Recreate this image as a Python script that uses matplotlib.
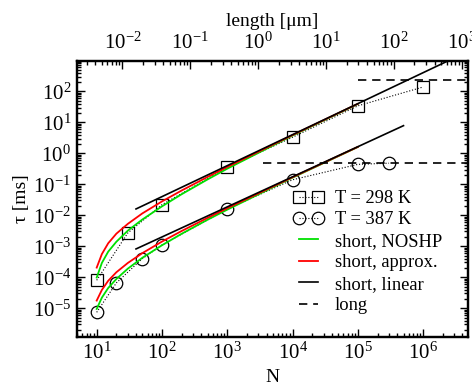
import matplotlib
matplotlib.use("Agg")
import matplotlib.pyplot as plt
from matplotlib.ticker import LogLocator, NullFormatter, FixedLocator

plt.rcParams['font.family'] = ['Liberation Serif', 'DejaVu Serif']
plt.rcParams['mathtext.fontset'] = 'stix'
plt.rcParams['font.size'] = 12

# ---- data ----
N_298 = [10, 30, 100, 1000, 1e4, 1e5, 1e6]
tau_298 = [8e-5, 2.7e-3, 0.022, 0.35, 3.3, 34, 138]

N_387 = [10, 20, 50, 100, 1000, 1e4, 1e5, 3e5]
tau_387 = [7.4e-6, 6.6e-5, 4.0e-4, 1.1e-3, 0.016, 0.14, 0.44, 0.48]

N_short = [10, 12, 15, 20, 30, 50, 100, 200, 500, 1000, 1e4, 1e5]
noshp_298 = [9.8e-5, 2.9e-4, 6.7e-4, 1.4e-3, 3.2e-3, 7.3e-3, 0.0194, 0.0478, 0.144, 0.319, 3.75, 39.2]
approx_298 = [2.05e-4, 5.6e-4, 1.25e-3, 2.55e-3, 5.3e-3, 0.0115, 0.028, 0.063, 0.173, 0.362, 3.88, 39.6]
noshp_387 = [9.5e-6, 2.2e-5, 4.5e-5, 8.8e-5, 1.9e-4, 4.25e-4, 1.08e-3, 2.53e-3, 7.21e-3, 0.0152, 0.164, 1.60]
approx_387 = [1.77e-5, 3.9e-5, 7.7e-5, 1.45e-4, 2.9e-4, 6.0e-4, 1.42e-3, 3.11e-3, 8.28e-3, 0.0169, 0.169, 1.61]

lin_298_N = [40, 5e6]
lin_298_tau = [0.016, 2000]
lin_387_N = [40, 5e5]
lin_387_tau = [8.2e-4, 7.8]

long_298_N = [1e5, 5e6]
long_298_tau = [225, 225]
long_387_N = [3.5e3, 5e6]
long_387_tau = [0.5, 0.5]

N_ticks = [1e1, 1e2, 1e3, 1e4, 1e5, 1e6]
tau_ticks = [1e-5, 1e-4, 1e-3, 1e-2, 1e-1, 1e0, 1e1, 1e2]
len_ticks = [1e-2, 1e-1, 1e0, 1e1, 1e2, 1e3]

# ---- figure ----
fig = plt.figure(figsize=(4.72, 3.85), dpi=100)
ax = fig.add_axes([0.1625, 0.1255, 0.830, 0.716])

lw_c = 1.3
ax.plot(N_298, tau_298, ls=':', color='black', lw=0.8, marker='s', ms=8,
        mfc='none', mec='black', mew=0.9, label='T = 298 K', zorder=2)
ax.plot(N_387, tau_387, ls=':', color='black', lw=0.8, marker='o', ms=9,
        mfc='none', mec='black', mew=0.9, label='T = 387 K', zorder=2)

ax.plot(N_short, noshp_298, color='#00e000', lw=lw_c, label='short, NOSHP', zorder=3)
ax.plot(N_short, noshp_387, color='#00e000', lw=lw_c, zorder=3)
ax.plot(N_short, approx_298, color='#ff0000', lw=lw_c, label='short, approx.', zorder=3)
ax.plot(N_short, approx_387, color='#ff0000', lw=lw_c, zorder=3)

ax.plot(lin_298_N, lin_298_tau, color='black', lw=1.2, label='short, linear', zorder=4)
ax.plot(lin_387_N, lin_387_tau, color='black', lw=1.2, zorder=4)

ax.plot(long_298_N, long_298_tau, color='black', lw=1.2, ls=(0, (5, 3.5)), label='long', zorder=4)
ax.plot(long_387_N, long_387_tau, color='black', lw=1.2, ls=(0, (5, 3.5)), zorder=4)

ax.set_xscale('log')
ax.set_yscale('log')
ax.set_xlim(4.94, 4.94e6)
ax.set_ylim(1.21e-6, 950)

ax.xaxis.set_major_locator(FixedLocator(N_ticks))
ax.yaxis.set_major_locator(FixedLocator(tau_ticks))
ax.xaxis.set_minor_locator(LogLocator(base=10, subs=range(2, 10), numticks=100))
ax.yaxis.set_minor_locator(LogLocator(base=10, subs=range(2, 10), numticks=100))
ax.xaxis.set_minor_formatter(NullFormatter())
ax.yaxis.set_minor_formatter(NullFormatter())

ax.tick_params(which='both', direction='in', top=False, right=True, bottom=True, left=True,
               labelsize=15, width=1.0, pad=4)
ax.tick_params(which='major', length=5.5)
ax.tick_params(which='minor', length=3)
for s in ax.spines.values():
    s.set_linewidth(1.6)

ax.set_xlabel('N', fontsize=14, labelpad=4)
ax.set_ylabel('τ [ms]', fontsize=14, labelpad=2)

ax2 = ax.twiny()
ax2.set_xscale('log')
ax2.set_xlim(2.12e-3, 1250)
ax2.xaxis.set_major_locator(FixedLocator(len_ticks))
ax2.xaxis.set_minor_locator(LogLocator(base=10, subs=range(2, 10), numticks=100))
ax2.xaxis.set_minor_formatter(NullFormatter())
ax2.tick_params(which='both', direction='in', top=True, bottom=False, labelsize=15, width=1.0, pad=5)
ax2.tick_params(which='major', length=5.5)
ax2.tick_params(which='minor', length=3)
ax2.set_xlabel('length [μm]', fontsize=14, labelpad=5)
for s in ax2.spines.values():
    s.set_linewidth(1.6)

leg = ax.legend(loc='upper left', bbox_to_anchor=(293 / 472, 1 - 190 / 385),
                bbox_transform=fig.transFigure, frameon=False, numpoints=2,
                handlelength=1.65, handletextpad=0.6, labelspacing=0.24,
                borderpad=0, borderaxespad=0, fontsize=13.3)

fig.savefig('out.png', dpi=100)
